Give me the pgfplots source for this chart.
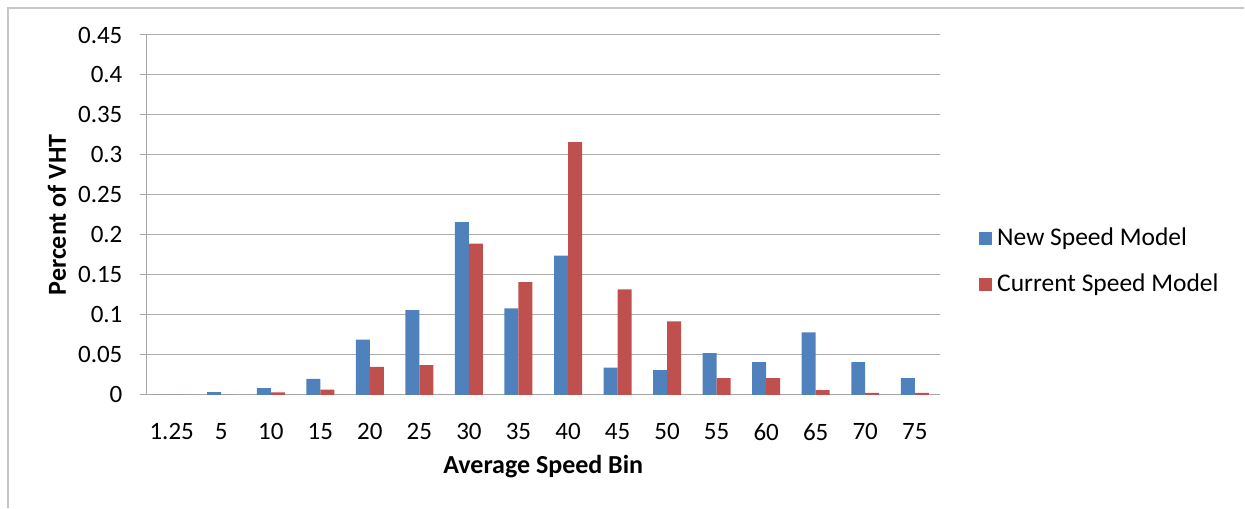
\documentclass[border=0pt]{standalone}
\usepackage{fontspec}
\setmainfont{Carlito}
\usepackage{pgfplots}
\pgfplotsset{compat=1.18}
\definecolor{newblue}{HTML}{4F81BD}
\definecolor{curred}{HTML}{C0504D}
\begin{document}
\fontsize{25}{29}\selectfont
\begin{tikzpicture}[x=1pt,y=1pt]
\path (0,0) rectangle (1245,-508);
\draw[gray!45, line width=1.2pt] (8,-508) -- (8,-8) -- (1245,-8);
\begin{axis}[
  at={(147pt,-395pt)}, anchor=south west,
  scale only axis, width=793pt, height=360pt,
  ybar=0pt, bar width=14pt,
  xmin=-0.5, xmax=15.5, ymin=0, ymax=0.45,
  xtick={0,...,15},
  xticklabels={1.25,5,10,15,20,25,30,35,40,45,50,55,60,65,70,75},
  ytick={0,0.05,0.1,0.15,0.2,0.25,0.3,0.35,0.4,0.45},
  /pgf/number format/.cd, fixed, precision=2, assume math mode=true, /pgfplots/.cd,
  axis x line*=bottom, axis y line*=left,
  axis line style={-, gray!70, line width=1pt},
  ymajorgrids, major grid style={gray!65, line width=1pt},
  xtick style={draw=none},
  ytick style={gray!70, line width=1pt},
  tick align=outside, major tick length=7pt,
  xticklabel style={yshift=-13pt},
  yticklabel style={xshift=-9pt},
  xlabel={\fontsize{26}{30}\selectfont\bfseries Average Speed Bin},
  ylabel={\fontsize{26}{30}\selectfont\bfseries Percent of VHT},
  xlabel style={at={(axis description cs:0.5,0)}, anchor=center, yshift=-72pt},
  ylabel style={at={(axis description cs:0,0.5)}, anchor=center, yshift=90pt},
  legend style={at={(1.046,0.37)}, anchor=west, draw=none, fill=none,
    row sep=20pt, cells={anchor=west}, nodes={inner xsep=5pt},
    font=\fontsize{25.5}{29}\selectfont},
  legend image code/.code={\fill[#1] (0pt,-6.5pt) rectangle (13pt,6.5pt);},
]
\addplot[fill=newblue, draw=none] coordinates {
  (0,0) (1,0.0034) (2,0.0083) (3,0.020) (4,0.069) (5,0.106) (6,0.216) (7,0.108)
  (8,0.174) (9,0.034) (10,0.031) (11,0.052) (12,0.041) (13,0.078) (14,0.041) (15,0.021)};
\addplot[fill=curred, draw=none] coordinates {
  (0,0) (1,0) (2,0.003) (3,0.0066) (4,0.035) (5,0.037) (6,0.189) (7,0.141)
  (8,0.316) (9,0.132) (10,0.092) (11,0.021) (12,0.021) (13,0.006) (14,0.0025) (15,0.0025)};
\legend{New Speed Model, Current Speed Model}
\end{axis}
\end{tikzpicture}
\end{document}
